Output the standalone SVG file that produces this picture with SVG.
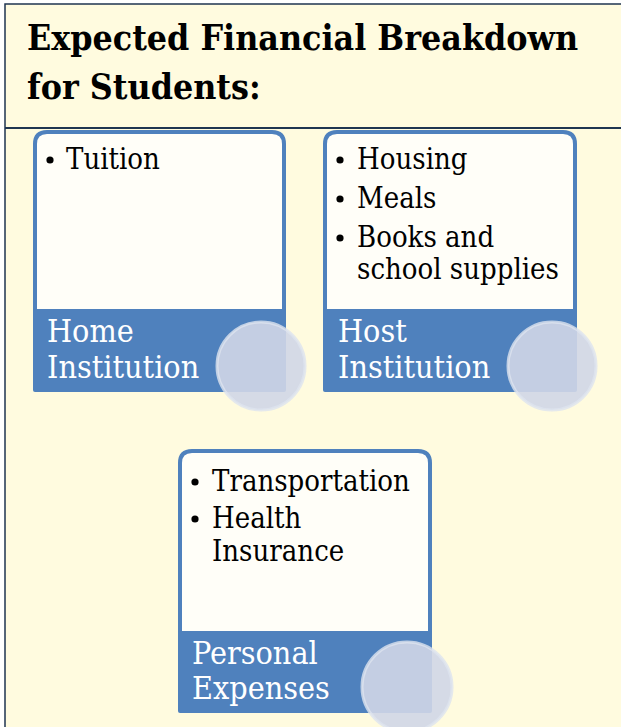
<svg xmlns="http://www.w3.org/2000/svg" width="621" height="727" viewBox="0 0 621 727">
<style>
.title{font-family:"DejaVu Serif Condensed","DejaVu Serif","Liberation Serif",serif;font-weight:bold;font-size:35.4px;fill:#000}
.item{font-family:"DejaVu Serif Condensed","DejaVu Serif","Liberation Serif",serif;font-size:29px;fill:#000}
.bul{fill:#000}
.label{font-family:"DejaVu Serif Condensed","DejaVu Serif","Liberation Serif",serif;font-size:32px;fill:#fff}
.top{fill:#FFFEF8;stroke:#4F81BD;stroke-width:4}
.bar{fill:#4F81BD}
.disc{fill:rgb(208,214,231);fill-opacity:0.9;stroke:#DDE3EF;stroke-opacity:0.8;stroke-width:3}
</style>
<rect x="0" y="0" width="621" height="727" fill="#FFFFFF"/>
<rect x="5" y="4" width="640" height="740" fill="#FFFBDF" stroke="#1F3550" stroke-width="1.5"/>
<line x1="5" y1="128" x2="621" y2="128" stroke="#1F3550" stroke-width="2"/>
<g id="title">
<text class="title" x="27" y="50">Expected Financial Breakdown</text>
<text class="title" x="27" y="99">for Students:</text>
</g>
<g id="home">
<path class="top" d="M35,312 V144 Q35,132 47,132 H272 Q284,132 284,144 V312 Z"/>
<rect class="bar" x="33" y="309" width="253" height="83" rx="2"/>
<circle class="bul" cx="50" cy="160" r="3.6"/>
<text class="item" x="66" y="169">Tuition</text>
<text class="label" x="47" y="342">Home</text>
<text class="label" x="47" y="378">Institution</text>
<circle class="disc" cx="261" cy="366" r="44"/>
</g>
<g id="host">
<path class="top" d="M325,312 V144 Q325,132 337,132 H563 Q575,132 575,144 V312 Z"/>
<rect class="bar" x="323" y="309" width="254" height="83" rx="2"/>
<circle class="bul" cx="340" cy="160" r="3.6"/>
<text class="item" x="357" y="169">Housing</text>
<circle class="bul" cx="340" cy="199" r="3.6"/>
<text class="item" x="357" y="208">Meals</text>
<circle class="bul" cx="340" cy="238" r="3.6"/>
<text class="item" x="357" y="247">Books and</text>
<text class="item" x="357" y="279">school supplies</text>
<text class="label" x="338" y="342">Host</text>
<text class="label" x="338" y="378">Institution</text>
<circle class="disc" cx="552" cy="366" r="44"/>
</g>
<g id="personal">
<path class="top" d="M180,634 V463 Q180,451 192,451 H418 Q430,451 430,463 V634 Z"/>
<rect class="bar" x="178" y="631" width="254" height="82" rx="2"/>
<circle class="bul" cx="195" cy="482" r="3.6"/>
<text class="item" x="212" y="491">Transportation</text>
<circle class="bul" cx="195" cy="519" r="3.6"/>
<text class="item" x="212" y="528">Health</text>
<text class="item" x="212" y="561">Insurance</text>
<text class="label" x="192" y="664">Personal</text>
<text class="label" x="192" y="699">Expenses</text>
<circle class="disc" cx="407" cy="687" r="45"/>
</g>
<g id="connectors"></g>
</svg>
